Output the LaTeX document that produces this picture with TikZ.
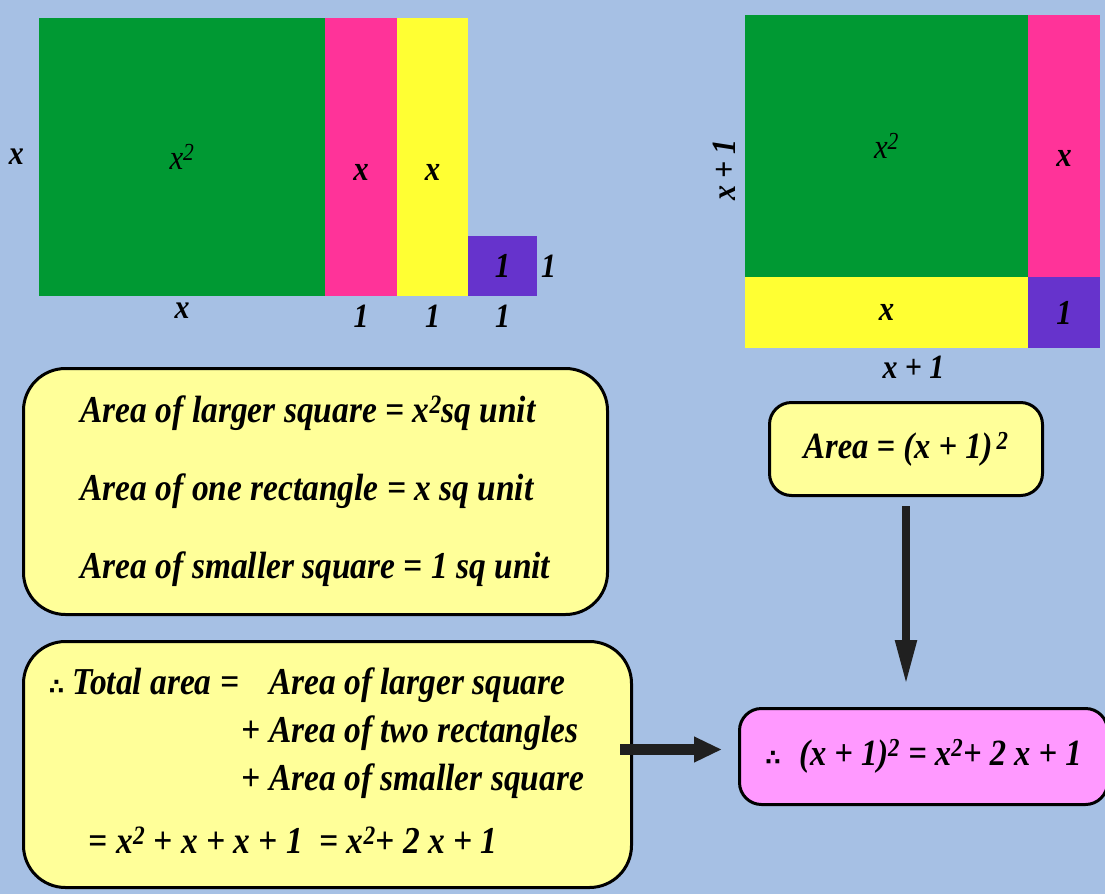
\documentclass[tikz,border=0pt]{standalone}
\usepackage{fontspec}
\setmainfont{Liberation Serif}[FakeStretch=0.88]
\newfontfamily\symbfont{DejaVu Sans}
\usetikzlibrary{arrows.meta, positioning}

\definecolor{bgblue}{RGB}{166,192,228}
\definecolor{sqgreen}{RGB}{0,153,51}
\definecolor{rectpink}{RGB}{255,51,153}
\definecolor{rectyellow}{RGB}{255,255,51}
\definecolor{unitpurple}{RGB}{102,51,204}
\definecolor{noteyellow}{RGB}{255,255,153}
\definecolor{notepink}{RGB}{255,153,255}
\definecolor{arrowgray}{RGB}{32,32,32}

\newcommand{\tfsign}{{\symbfont\fontsize{22}{24}\selectfont ∴}}
\newcommand{\lowx}[1]{\raisebox{-#1}[\height][\depth]{x}}

\tikzset{
  tile/.style = {rectangle, inner sep=0pt, outer sep=0pt, align=center, font=\fontsize{35}{38}\selectfont\bfseries\itshape},
  dimlabel/.style = {inner sep=0pt, font=\fontsize{34}{36}\selectfont\bfseries\itshape},
  note/.style = {rectangle, rounded corners=42pt, draw=black, line width=3pt, fill=noteyellow, align=left, font=\fontsize{38}{78}\selectfont\bfseries\itshape},
  smallnote/.style = {rectangle, rounded corners=22pt, draw=black, line width=3pt, align=center, font=\fontsize{37}{40}\selectfont\bfseries\itshape},
  fatarrow/.style = {-{Triangle[length=45pt, width=20pt]}, line width=8pt, draw=arrowgray}
}

\begin{document}
\begin{tikzpicture}[x=1pt, y=-1pt]

\fill[bgblue] (0,0) rectangle (1105,894);
\useasboundingbox (0,0) rectangle (1105,894);

% Left figure: square and strips laid in a row
\node[tile, fill=sqgreen, minimum width=286pt, minimum height=278pt, anchor=north west] (lgreen) at (39,18) {\mdseries x\textsuperscript{2}};
\node[tile, fill=rectpink, minimum width=72pt, minimum height=278pt, right=0pt of lgreen] (lpink) {\lowx{15pt}};
\node[tile, fill=rectyellow, minimum width=71pt, minimum height=278pt, right=0pt of lpink] (lyel) {\lowx{15pt}};
\node[tile, fill=unitpurple, minimum width=69pt, minimum height=60pt, anchor=south west] (lpurp) at (lyel.south east) {1};

\node[dimlabel, left=15pt of lgreen] (lside) {x};
\node[dimlabel, below=7pt of lgreen] (lbase) {x};
\node[dimlabel, below=9pt of lpink] (pbase) {1};
\node[dimlabel, below=9pt of lyel] (ybase) {1};
\node[dimlabel, below=9pt of lpurp] (ubase) {1};
\node[dimlabel, right=4pt of lpurp] (uside) {1};

% Right figure: the same pieces put together
\node[tile, fill=sqgreen, minimum width=283pt, minimum height=262pt, anchor=north west] (rgreen) at (745,15) {\mdseries x\textsuperscript{2}};
\node[tile, fill=rectpink, minimum width=72pt, minimum height=262pt, right=0pt of rgreen] (rpink) {\lowx{12pt}};
\node[tile, fill=rectyellow, minimum width=283pt, minimum height=71pt, below=0pt of rgreen] (ryel) {x};
\node[tile, fill=unitpurple, minimum width=72pt, minimum height=71pt, right=0pt of ryel] (rpurp) {1};

\node[dimlabel, below=8pt of ryel, xshift=27pt] (rbase) {x + 1};
\node[dimlabel, rotate=90, anchor=south] (rside) at ([xshift=-9pt, yshift=-24pt]rgreen.west) {x + 1};

% Notes
\node[note, minimum width=584pt, minimum height=246pt, anchor=north west] (areas) at (22,367)
  {Area of larger square = x\textsuperscript{2}sq unit\\
   Area of one rectangle = x sq unit\\
   Area of smaller square = 1 sq unit};

\node[smallnote, fill=noteyellow, minimum width=273pt, minimum height=93pt] (areaeq) at (906,449)
  {Area = (x + 1)\textsuperscript{\,2}};

\node[note, minimum width=608pt, minimum height=246pt, anchor=north west, font=\fontsize{38}{48}\selectfont\bfseries\itshape] (total) at (22,640)
  {\hspace*{-22pt}\begin{tabular}{@{}l@{\hspace{30pt}}l@{}}
   \tfsign\ Total area = & Area of larger square\\
    & \llap{+ }Area of two rectangles\\
    & \llap{+ }Area of smaller square\\[15pt]
   \multicolumn{2}{@{\hspace{40pt}}l@{}}{= x\textsuperscript{2} + x + x + 1 \ = x\textsuperscript{2}+ 2 x + 1}
   \end{tabular}};

\node[smallnote, fill=notepink, minimum width=368pt, minimum height=96pt, anchor=north west] (result) at (738,707)
  {\tfsign\enspace(x + 1)\textsuperscript{2} = x\textsuperscript{2}+ 2 x + 1};

% Arrows
\draw[fatarrow, shorten <=9pt, shorten >=22pt] (areaeq.south) -- (areaeq.south |- result.north);
\draw[fatarrow, line width=11pt, -{Triangle[length=28pt, width=24pt]}, shorten <=-13pt, shorten >=16pt]
  ([yshift=15pt]total.east) -- ([yshift=15pt]total.east -| result.west);

\end{tikzpicture}
\end{document}
